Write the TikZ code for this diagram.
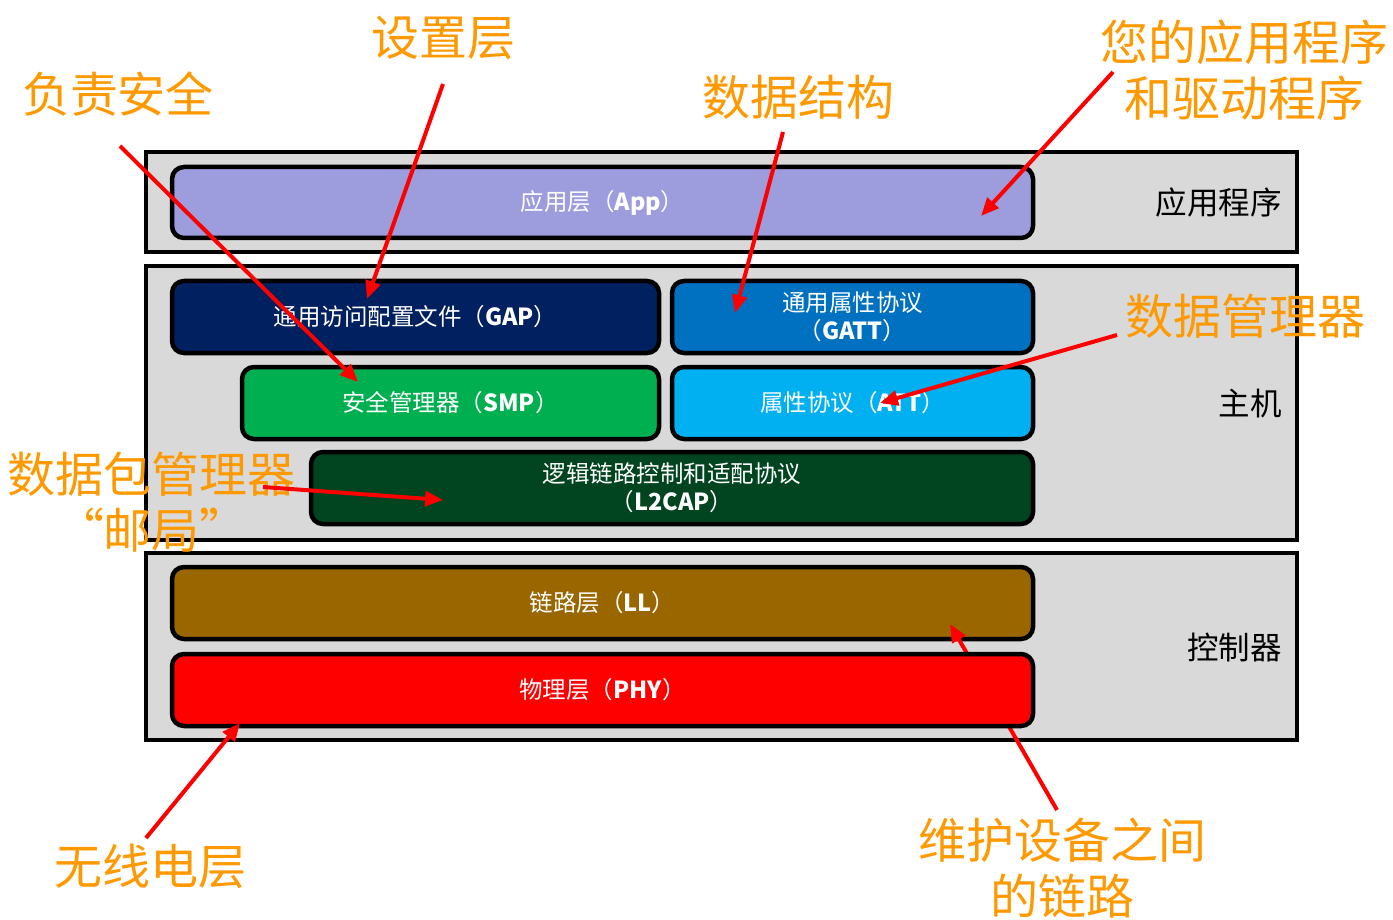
\documentclass[tikz,border=0pt]{standalone}
\usepackage{fontspec}
\setmainfont{Noto Sans CJK SC}
\usetikzlibrary{arrows.meta}
\definecolor{boxgray}{HTML}{D9D9D9}
\definecolor{appc}{HTML}{9D9CDC}
\definecolor{gapc}{HTML}{002060}
\definecolor{gattc}{HTML}{0070C0}
\definecolor{smpc}{HTML}{00B050}
\definecolor{attc}{HTML}{00B0F0}
\definecolor{l2capc}{HTML}{00451F}
\definecolor{llc}{HTML}{996600}
\definecolor{phyc}{HTML}{FF0000}
\definecolor{lblorange}{HTML}{FF9900}
\definecolor{arrred}{HTML}{FF0000}
\begin{document}
\begin{tikzpicture}[x=1pt,y=-1pt,
  outer/.style={draw=black, line width=4pt, fill=boxgray, inner sep=0pt},
  layer/.style={draw=black, line width=4.5pt, rounded corners=12pt, text=white,
    font=\fontsize{23.5}{28}\selectfont, align=center, inner sep=0pt},
  side/.style={font=\fontsize{31.5}{36}\selectfont, anchor=east, inner sep=0pt},
  note/.style={text=lblorange, font=\fontsize{48}{56}\selectfont, align=center, inner sep=0pt},
  arr/.style={draw=arrred, line width=4pt, -{Triangle[length=18pt,width=15pt]}},
]
\useasboundingbox (0,0) rectangle (1393,920);
\fill[white] (0,0) rectangle (1393,920);

% outer sections
\node[outer, minimum width=1151, minimum height=100] (appsec) at (721.5,202) {};
\node[outer, minimum width=1151, minimum height=274] (hostsec) at (721.5,403) {};
\node[outer, minimum width=1151, minimum height=187] (ctrlsec) at (721.5,646.5) {};

\node[side] (lapp) at (1282,203) {应用程序};
\node[side] (lhost) at (1282,404) {主机};
\node[side] (lctrl) at (1282,648) {控制器};

% layers
\node[layer, fill=appc, minimum width=861, minimum height=71] (app) at (602.5,202.5) {应用层（\textbf{App}）};
\node[layer, fill=gapc, minimum width=487, minimum height=72] (gap) at (415.5,317) {通用访问配置文件（\textbf{GAP}）};
\node[layer, fill=gattc, minimum width=361, minimum height=72] (gatt) at (852.5,317) {通用属性协议\\（\textbf{GATT}）};
\node[layer, fill=smpc, minimum width=417, minimum height=72] (smp) at (450.5,403) {安全管理器（\textbf{SMP}）};
\node[layer, fill=attc, minimum width=361, minimum height=72] (att) at (852.5,403) {属性协议（\textbf{ATT}）};
\node[layer, fill=l2capc, minimum width=722, minimum height=72] (l2cap) at (672,488) {逻辑链路控制和适配协议\\（\textbf{L2CAP}）};
\node[layer, fill=llc, minimum width=861, minimum height=72] (ll) at (602.5,603) {链路层（\textbf{LL}）};

% arrow to LL passes behind PHY
\coordinate (s7) at (1057,810);
\coordinate (t7) at (950,624);
\draw[arr] (s7) -- (t7);

\node[layer, fill=phyc, minimum width=861, minimum height=72] (phy) at (602.5,690) {物理层（\textbf{PHY}）};

% orange notes
\node[note] (nset) at (443,38) {设置层};
\node[note] (nsec) at (118,94) {负责安全};
\node[note] (nds) at (798,97) {数据结构};
\node[note] (napp) at (1244,70) {您的应用程序\\和驱动程序};
\node[note] (ndm) at (1245,316) {数据管理器};
\node[note] (npm) at (152,502) {数据包管理器\\“邮局”};
\node[note] (nrad) at (150,866) {无线电层};
\node[note] (nlink) at (1062,868) {维护设备之间\\的链路};

% arrows
\coordinate (s1) at (120,146);  \coordinate (t1) at (358,382);
\coordinate (s2) at (443,84);   \coordinate (t2) at (367,299);
\coordinate (s3) at (783,132);  \coordinate (t3) at (735,313);
\coordinate (s4) at (1113,72);  \coordinate (t4) at (981,216);
\coordinate (s5) at (1117,335); \coordinate (t5) at (880,403);
\coordinate (s6) at (263,487);  \coordinate (t6) at (443,500);
\coordinate (s8) at (146,838);  \coordinate (t8) at (240,723);
\draw[arr] (s1) -- (t1);
\draw[arr] (s2) -- (t2);
\draw[arr] (s3) -- (t3);
\draw[arr] (s4) -- (t4);
\draw[arr] (s5) -- (t5);
\draw[arr] (s6) -- (t6);
\draw[arr] (s8) -- (t8);
\end{tikzpicture}
\end{document}
